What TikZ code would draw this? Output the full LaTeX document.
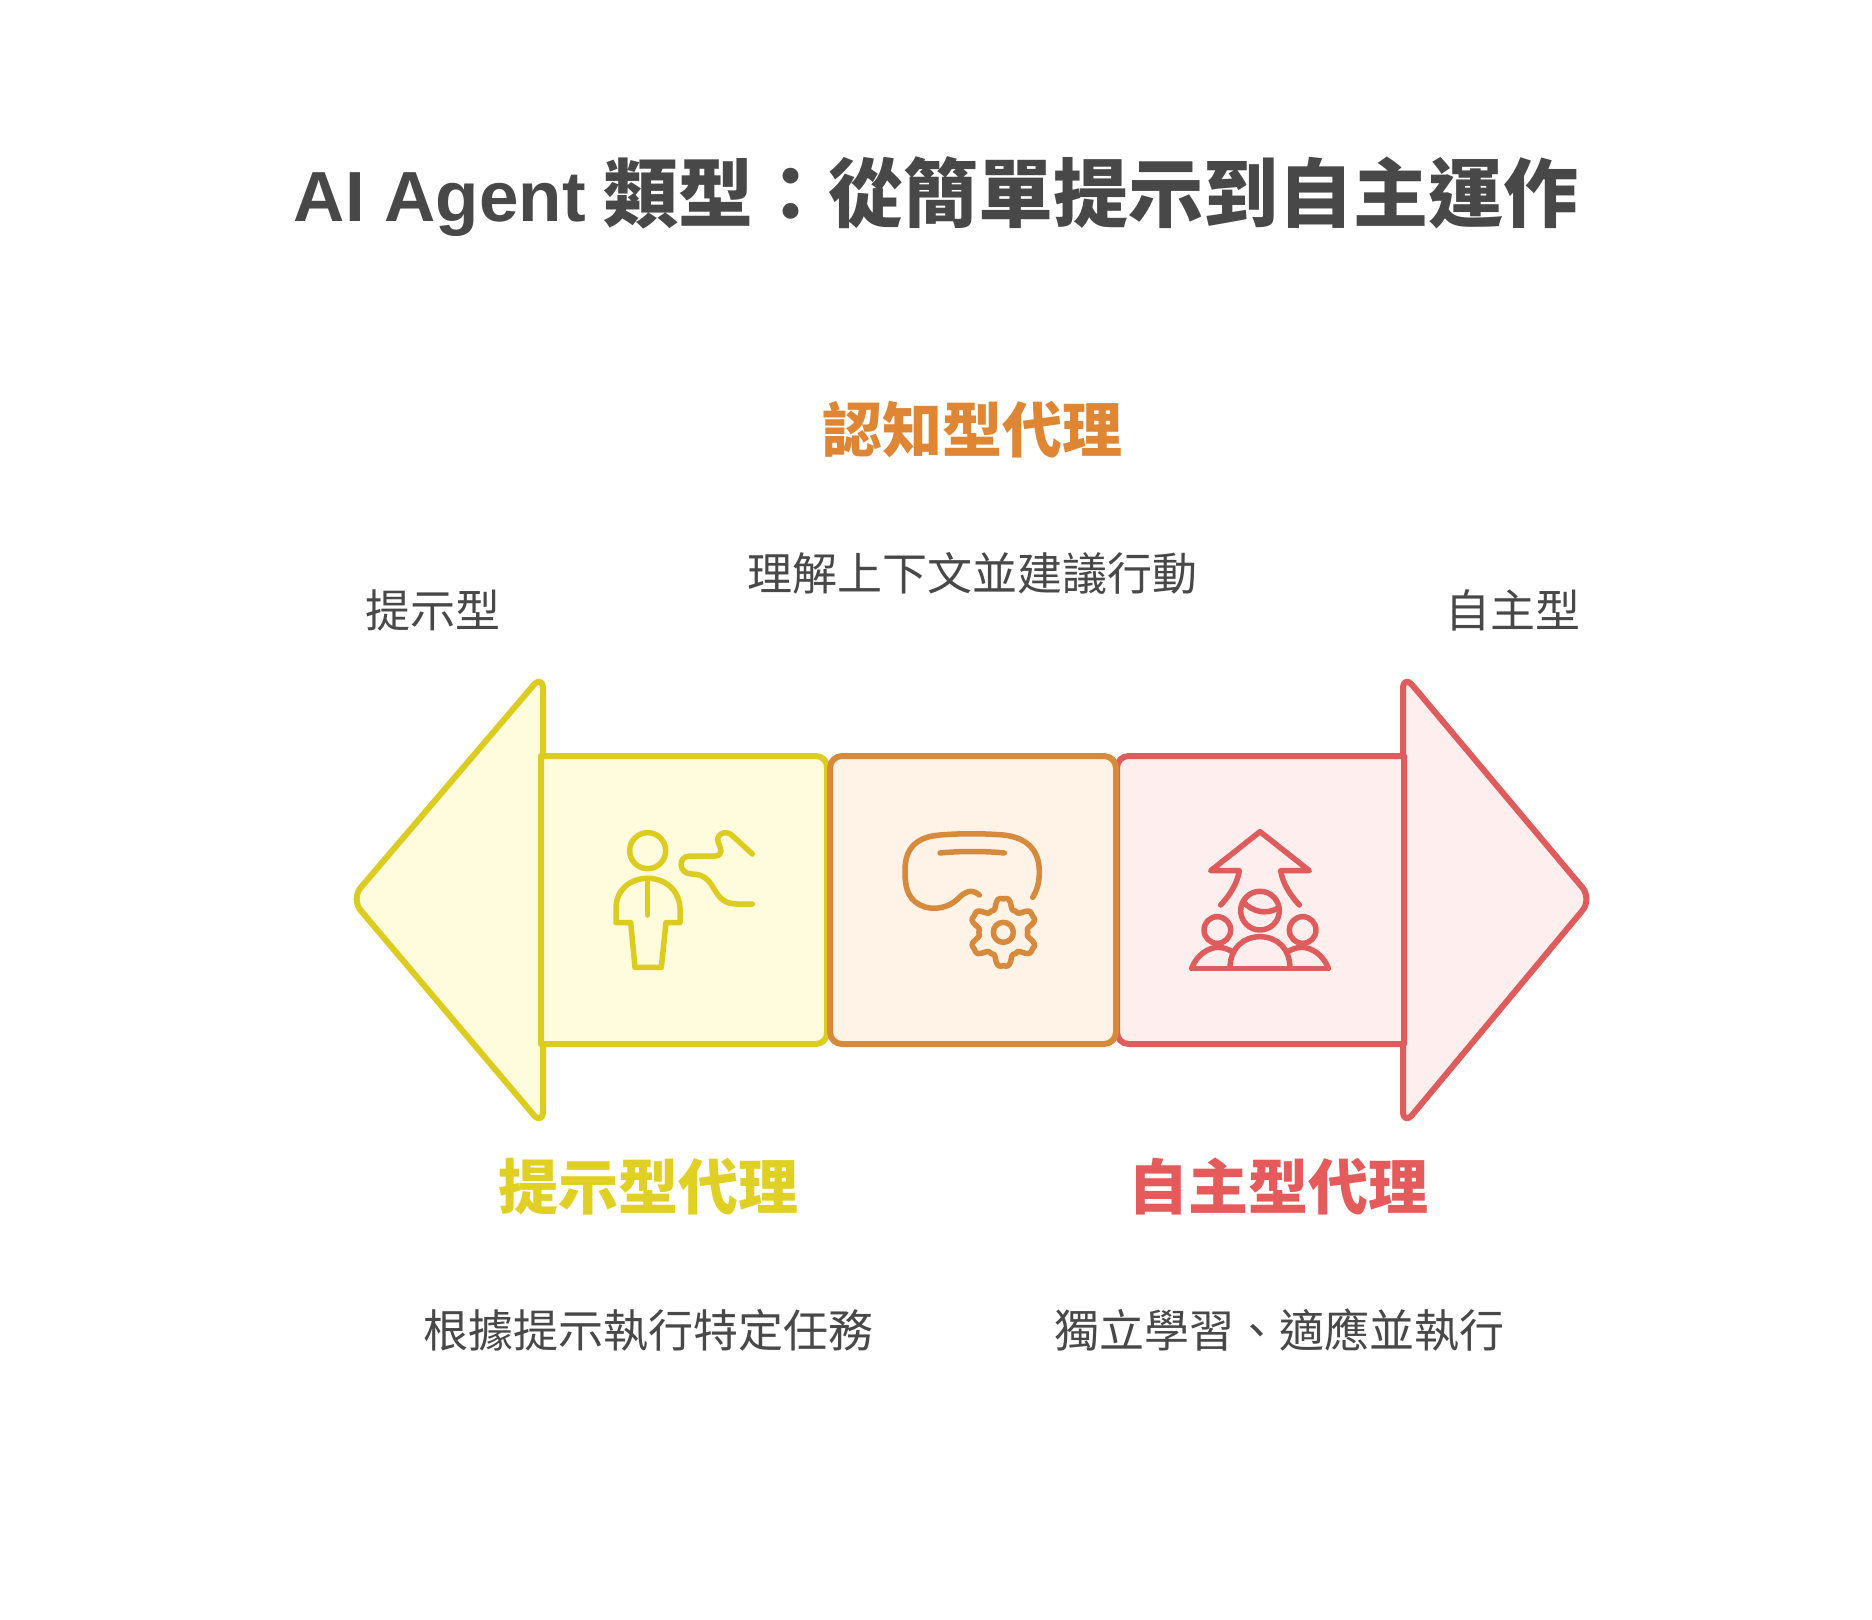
\documentclass[tikz,border=0pt]{standalone}
\usepackage{fontspec}
\setmainfont{Noto Sans CJK TC}
\newfontfamily\latinf{Liberation Sans}
\definecolor{ink}{HTML}{484848}
\definecolor{yel}{HTML}{DCCC20}
\definecolor{yelf}{HTML}{FFFBDC}
\definecolor{ora}{HTML}{D88A3C}
\definecolor{oraf}{HTML}{FFF2E6}
\definecolor{rd}{HTML}{DF5C5C}
\definecolor{rdf}{HTML}{FFEEEE}
\definecolor{yelt}{HTML}{E0D024}
\definecolor{orat}{HTML}{DE8633}
\definecolor{rdt}{HTML}{E55A5A}
\tikzset{
 titletext/.style={text=ink,font=\fontsize{75}{82}\selectfont\bfseries,inner sep=0pt,anchor=center},
 headtext/.style={font=\fontsize{60}{66}\selectfont\bfseries,inner sep=0pt,anchor=center},
 bodytext/.style={text=ink,font=\fontsize{45}{50}\selectfont,inner sep=0pt,anchor=center},
 shapeline/.style={line width=6pt,line join=round},
 iconline/.style={line width=5.5pt,line cap=round,line join=round},
 zoomed/.style={x=0.33333pt,y=-0.33333pt}
}
\begin{document}
\begin{tikzpicture}[x=1pt,y=-1pt]
\useasboundingbox (0,0) rectangle (1872,1620);
\fill[white] (0,0) rectangle (1872,1620);

% arrow heads
\draw[shapeline,draw=yel,fill=yelf,rounded corners=15pt] (543,899) -- (543,674) -- (351,899) -- (543,1126) -- cycle;
\draw[shapeline,draw=rd,fill=rdf,rounded corners=15pt] (1403,899) -- (1403,674) -- (1592,899) -- (1403,1126) -- cycle;

% segments
\draw[shapeline,draw=yel,fill=yelf] (541,756) -- (816,756) .. controls (822,756) and (827,761) .. (827,767) -- (827,1033) .. controls (827,1039) and (822,1044) .. (816,1044) -- (541,1044) -- cycle;
\draw[shapeline,draw=rd,fill=rdf] (1404,756) -- (1129,756) .. controls (1122,756) and (1117,761) .. (1117,768) -- (1117,1032) .. controls (1117,1039) and (1122,1044) .. (1129,1044) -- (1404,1044) -- cycle;
\draw[shapeline,draw=ora,fill=oraf,rounded corners=12pt] (830,756) rectangle (1116,1044);

% person icon
\begin{scope}[shift={(590,810)},zoomed,iconline,draw=yel]
\draw (173,122) circle[radius=54];
\draw (78,338) -- (122,338) -- (135,472) -- (214,472) -- (228,338) -- (270,338) -- (270,295) .. controls (268,240) and (225,205) .. (173,205) .. controls (120,205) and (78,240) .. (78,295) -- cycle;
\draw (173,205) -- (173,315);
\draw (487,132) -- (425,75) .. controls (405,58) and (375,75) .. (385,98) .. controls (392,112) and (402,138) .. (375,138) -- (300,138) .. controls (262,138) and (265,192) .. (305,192) .. controls (385,192) and (360,282) .. (440,282) -- (487,282);
\end{scope}

% head and gear icon
\begin{scope}[shift={(890,810)},zoomed,iconline,draw=ora]
\draw (268,255) .. controls (245,235) and (225,245) .. (205,265) .. controls (170,300) and (110,305) .. (75,275) .. controls (45,250) and (45,210) .. (45,180) .. controls (45,110) and (85,80) .. (150,75) .. controls (210,70) and (280,70) .. (340,75) .. controls (410,82) and (448,120) .. (448,185) .. controls (448,215) and (442,240) .. (428,262);
\draw (150,129) .. controls (210,123) and (285,123) .. (343,129);
\draw (340,367) circle[radius=30];
\begin{scope}[shift={(340,367)}]
\draw plot[domain=0:360,samples=145] ({\x}:{87-17*(cos(6*\x)-0.2*cos(18*\x))}) -- cycle;
\end{scope}
\end{scope}

% group and arrow icon
\begin{scope}[shift={(1180,810)},zoomed,iconline,draw=rd]
\draw (122,285) .. controls (150,255) and (172,220) .. (178,182) -- (92,182) -- (240,65) -- (388,182) -- (302,182) .. controls (308,220) and (330,255) .. (358,285);
\draw (240,302) circle[radius=58];
\draw (190,277) .. controls (220,305) and (255,315) .. (293,295);
\draw (112,360) circle[radius=40];
\draw (368,360) circle[radius=40];
\draw (35,475) -- (445,475);
\draw (150,475) .. controls (150,415) and (190,380) .. (240,380) .. controls (290,380) and (330,415) .. (330,475);
\draw (35,475) .. controls (50,435) and (85,412) .. (115,412) .. controls (130,412) and (145,418) .. (158,426);
\draw (445,475) .. controls (430,435) and (395,412) .. (365,412) .. controls (350,412) and (335,418) .. (322,426);
\end{scope}

% texts
\node[titletext] (title) at (936,197) {{\latinf\bfseries\fontsize{71}{82}\selectfont AI Agent} 類型：從簡單提示到自主運作};
\node[headtext,text=orat] (h2) at (972,430) {認知型代理};
\node[bodytext] (b2) at (972,573) {理解上下文並建議行動};
\node[bodytext] (lleft) at (433,610) {提示型};
\node[bodytext] (lright) at (1513,610) {自主型};
\node[headtext,text=yelt] (h1) at (648,1187) {提示型代理};
\node[headtext,text=rdt] (h3) at (1278,1187) {自主型代理};
\node[bodytext] (b1) at (648,1330) {根據提示執行特定任務};
\node[bodytext] (b3) at (1279,1330) {獨立學習、適應並執行};
\end{tikzpicture}
\end{document}
